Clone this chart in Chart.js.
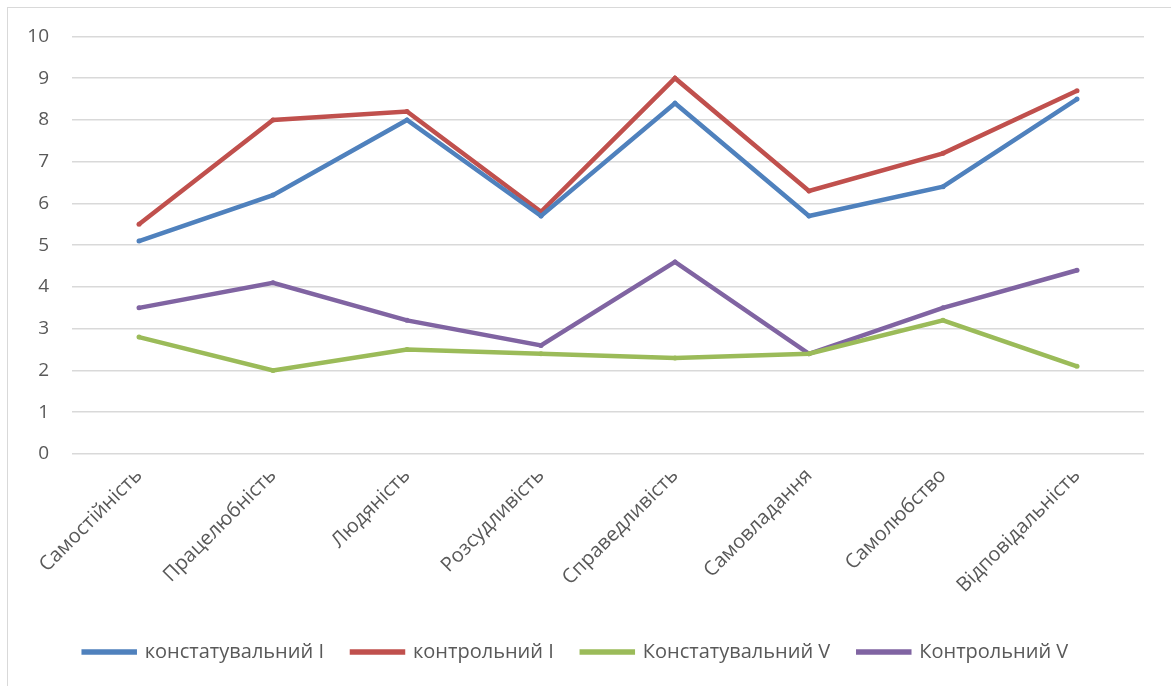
<!DOCTYPE html>
<html>
<head>
<meta charset="utf-8">
<script src="https://cdn.jsdelivr.net/npm/chart.js@4/dist/chart.umd.min.js"></script>
<style>
    body { margin: 0; background: #fff; }
    #box {
        position: absolute; left: 7px; top: 7px;
        width: 1170px; height: 685px;
        border: 1px solid #d9d9d9; box-sizing: border-box;
    }
    #wrap { position: absolute; left: 0; top: -6px; width: 1164px; height: 685px; }
</style>
</head>
<body>
<div id="box"><div id="wrap"><canvas id="myChart"></canvas></div></div>
<script>
const categories = ['Самостійність', 'Працелюбність', 'Людяність', 'Розсудливість',
    'Справедливість', 'Самовладання', 'Самолюбство', 'Відповідальність'];
const seriesNames = ['констатувальний I', 'контрольний I', 'Констатувальний V', 'Контрольний V'];
const konstI = [5.1, 6.2, 8.0, 5.7, 8.4, 5.7, 6.4, 8.5];
const kontrI = [5.5, 8.0, 8.2, 5.8, 9.0, 6.3, 7.2, 8.7];
const konstV = [2.8, 2.0, 2.5, 2.4, 2.3, 2.4, 3.2, 2.1];
const kontrV = [3.5, 4.1, 3.2, 2.6, 4.6, 2.4, 3.5, 4.4];
const yTicks = [0, 1, 2, 3, 4, 5, 6, 7, 8, 9, 10];
const colors = ['#4F81BD', '#C0504D', '#9BBB59', '#8064A2'];

const allValues = [konstI, kontrI, konstV, kontrV];
const textColor = '#595959';
const fontFamily = "'Open Sans', 'Liberation Sans', sans-serif";

const datasets = allValues.map(function (values, i) {
    return {
        label: seriesNames[i],
        data: values,
        borderColor: colors[i],
        backgroundColor: colors[i],
        borderWidth: 4.5,
        pointRadius: 2.5,
        pointHoverRadius: 2.5,
        pointBorderWidth: 0,
        tension: 0
    };
});

const config = {
    type: 'line',
    data: { labels: categories, datasets: datasets },
    options: {
        responsive: true,
        maintainAspectRatio: false,
        animation: false,
        layout: { padding: { top: 18, right: 28, bottom: 15, left: 0 } },
        plugins: {
            tooltip: { enabled: false },
            legend: {
                position: 'bottom',
                labels: {
                    color: textColor,
                    font: { family: fontFamily, size: 20 },
                    boxWidth: 51,
                    boxHeight: 1,
                    padding: 28
                }
            }
        },
        scales: {
            x: {
                offset: true,
                grid: { display: false, drawTicks: false },
                border: { display: false },
                ticks: {
                    color: textColor,
                    font: { family: fontFamily, size: 20 },
                    minRotation: 45,
                    maxRotation: 45,
                    padding: 10
                },
                afterFit: function (scale) { scale.height = 160; }
            },
            y: {
                min: 0,
                max: 10,
                afterBuildTicks: function (scale) {
                    scale.ticks = yTicks.map(function (v) { return { value: v }; });
                },
                grid: { color: '#d9d9d9', lineWidth: 1.5, drawTicks: false },
                border: { display: false },
                ticks: {
                    color: textColor,
                    font: { family: fontFamily, size: 19 },
                    padding: 23
                },
                afterFit: function (scale) { scale.width = 64; }
            }
        }
    }
};

new Chart(document.getElementById('myChart'), config);
</script>
</body>
</html>
